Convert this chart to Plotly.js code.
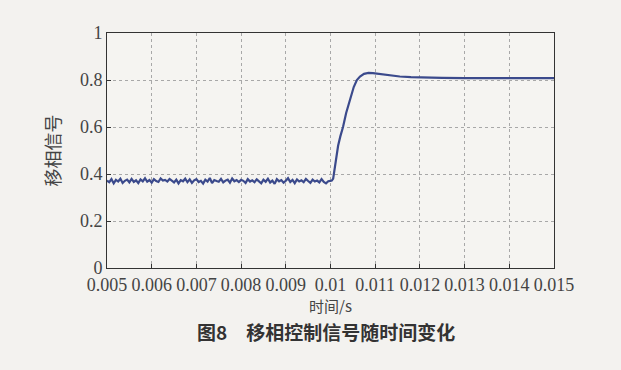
<!DOCTYPE html>
<html><head><meta charset="utf-8">
<script src="https://cdn.plot.ly/plotly-3.0.1.min.js"></script>
<style>html,body{margin:0;padding:0;background:#f3f2ef;}</style>
</head><body>
<div id="chart" style="width:621px;height:370px;"></div>
<script>
// Noisy segment before the step (0.005 s – 0.010 s, sampled every 0.00005 s)
const noiseStart = 0.005;
const noiseStep = 0.00005;
const noiseValues = [
0.372,0.365,0.378,0.360,0.375,0.368,0.380,0.362,0.371,0.376,
0.364,0.379,0.366,0.373,0.361,0.377,0.369,0.382,0.367,0.374,
0.363,0.378,0.370,0.366,0.381,0.372,0.375,0.368,0.379,0.371,
0.364,0.376,0.360,0.374,0.369,0.380,0.365,0.377,0.362,0.373,
0.378,0.366,0.371,0.359,0.376,0.368,0.383,0.361,0.374,0.370,
0.367,0.379,0.364,0.372,0.376,0.363,0.381,0.369,0.374,0.366,
0.375,0.371,0.362,0.378,0.368,0.373,0.365,0.377,0.370,0.360,
0.376,0.367,0.380,0.364,0.372,0.358,0.378,0.369,0.374,0.363,
0.371,0.382,0.366,0.375,0.361,0.377,0.368,0.373,0.365,0.379,
0.370,0.362,0.376,0.368,0.372,0.364,0.378,0.366,0.360,0.369,
0.371];
// Step response after 0.010 s
const stepTimes = [0.01003,0.01006,0.0101,0.01013,0.01017,0.01022,0.01028,0.01035,0.01044,0.01052,0.01059,0.01066,0.01075,0.01085,0.01095,0.0111,0.0113,0.01155,0.0118,0.0121,0.0125,0.013,0.0135,0.014,0.0145,0.015];
const stepValues = [0.372,0.38,0.43,0.48,0.52,0.56,0.60,0.66,0.72,0.77,0.80,0.815,0.826,0.830,0.829,0.825,0.820,0.815,0.812,0.810,0.809,0.808,0.808,0.808,0.808,0.808];

const xTicks = [0.005,0.006,0.007,0.008,0.009,0.01,0.011,0.012,0.013,0.014,0.015];
const xTickLabels = ['0.005','0.006','0.007','0.008','0.009','0.01','0.011','0.012','0.013','0.014','0.015'];
const yTicks = [0,0.2,0.4,0.6,0.8,1];
const yTickLabels = ['0','0.2','0.4','0.6','0.8','1'];

const xTitle = '时间/s';
const yTitle = '移相信号';
const caption = '图8　移相控制信号随时间变化';

const t = noiseValues.map((_, i) => +(noiseStart + i * noiseStep).toFixed(6)).concat(stepTimes);
const v = noiseValues.concat(stepValues);

const serif = 'Liberation Serif, DejaVu Serif, serif';
const cjk = 'Noto Sans CJK SC, sans-serif';

Plotly.newPlot('chart', [{
  x: t, y: v, type: 'scatter', mode: 'lines',
  line: {color: '#3b4a8c', width: 2.2}, hoverinfo: 'skip'
}], {
  width: 621, height: 370,
  margin: {l: 107, r: 67, t: 33, b: 102},
  paper_bgcolor: '#f3f2ef', plot_bgcolor: '#f5f4f1',
  showlegend: false,
  xaxis: {
    range: [0.005, 0.015], tickvals: xTicks, ticktext: xTickLabels,
    showline: true, linecolor: '#333', linewidth: 1, mirror: true,
    ticks: 'inside', ticklen: 4, tickcolor: '#333',
    showgrid: true, gridcolor: '#a8a8a8', griddash: 'dot', gridwidth: 1,
    zeroline: false,
    tickfont: {family: serif, size: 18, color: '#444'},
    title: {text: xTitle, font: {family: cjk, size: 15, color: '#444'}, standoff: 4}
  },
  yaxis: {
    range: [0, 1], tickvals: yTicks, ticktext: yTickLabels,
    showline: true, linecolor: '#333', linewidth: 1, mirror: true,
    ticks: 'inside', ticklen: 4, tickcolor: '#333',
    showgrid: true, gridcolor: '#a8a8a8', griddash: 'dot', gridwidth: 1,
    zeroline: false,
    tickfont: {family: serif, size: 18, color: '#444'},
    title: {text: yTitle, font: {family: cjk, size: 18, color: '#444'}, standoff: 14}
  },
  annotations: [{
    text: caption, xref: 'paper', yref: 'paper', x: 0.49, y: -0.205,
    xanchor: 'center', yanchor: 'top', showarrow: false,
    font: {family: cjk, size: 19, color: '#333', weight: 'bold'}
  }]
}, {staticPlot: true, displayModeBar: false});
</script>
</body></html>
